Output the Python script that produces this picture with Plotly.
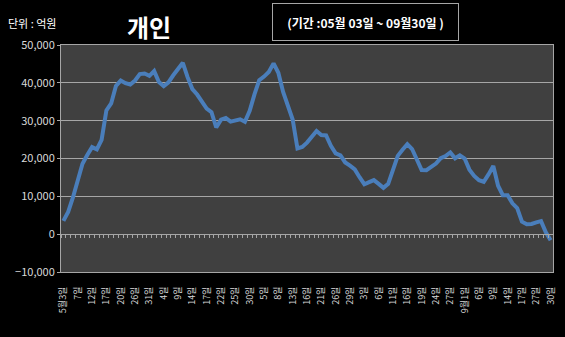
import plotly.graph_objects as go

# Daily net buying (unit: 억원), trading days 05/03 ~ 09/30
values = [
    3500, 5900, 9700, 14500, 18600, 20900, 23000, 22400, 24950, 32700,
    34550, 39200, 40600, 39900, 39550, 40600, 42300, 42450, 41850, 43100,
    40200, 39100, 40150, 42000, 43800, 45300, 41500, 38350, 36900, 34800,
    33200, 32250, 28200, 30250, 30700, 29750, 30150, 30350, 29700, 32600,
    36950, 40700, 41650, 42850, 45150, 42650, 37600, 34100, 30300, 22650,
    23050, 24200, 25800, 27250, 26200, 26100, 23350, 21350, 20800, 18950,
    18100, 17100, 15050, 13200, 13750, 14300, 13300, 12250, 13300, 17050,
    20700, 22330, 23800, 22500, 19700, 16950, 16900, 17650, 18650, 20100,
    20650, 21600, 20050, 20850, 20000, 17050, 15400, 14250, 13850, 15800,
    18000, 12800, 10300, 10300, 8150, 6900, 3300, 2600, 2700, 3100,
    3450, 500, -1600,
]

# Every third trading day is labelled
tick_labels = [
    "5월3일", "7일", "12일", "17일", "20일", "26일", "31일",
    "4일", "9일", "14일", "17일", "22일", "25일", "30일",
    "5일", "8일", "13일", "16일", "21일", "26일", "29일",
    "3일", "6일", "11일", "16일", "19일", "24일", "27일",
    "9월1일", "6일", "9일", "14일", "17일", "27일", "30일",
]
label_step = 3

y_ticks = [-10000, 0, 10000, 20000, 30000, 40000, 50000]

title = "개인"
unit_text = "단위 : 억원"
period_text = "(기간 :05월 03일 ~ 09월30일 )"

idx = list(range(len(values)))
tickvals = [i * label_step for i in range(len(tick_labels))]

FONT = "Noto Sans CJK KR"
GRID = "#a6a6a6"
TXT = "#d9d9d9"

fig = go.Figure()
fig.add_trace(go.Scatter(
    x=idx, y=values, mode="lines",
    line=dict(color="#4a7ebb", width=4, shape="linear"),
    hoverinfo="skip", showlegend=False,
))
# invisible trace to carry the category tick-mark axis at the zero line
fig.add_trace(go.Scatter(
    x=[idx[0], idx[-1]], y=[0, 0], xaxis="x2", mode="lines",
    line=dict(width=0), opacity=0, hoverinfo="skip", showlegend=False,
))

xr = [-0.5, len(values) - 0.5]
yr = [y_ticks[0], y_ticks[-1]]

fig.update_layout(
    width=565, height=337,
    margin=dict(l=61, r=8, t=45, b=65),
    paper_bgcolor="#000000",
    plot_bgcolor="#404040",
    font=dict(family=FONT, color=TXT),
    xaxis=dict(
        range=xr, tickmode="array", tickvals=tickvals, ticktext=tick_labels,
        tickangle=-90, tickfont=dict(size=9, color=TXT, family=FONT),
        showgrid=False, zeroline=False,
        showline=True, linecolor=GRID, linewidth=1, mirror=True,
        ticks="", ticklabelstandoff=10,
    ),
    xaxis2=dict(
        range=xr, overlaying="x", anchor="free",
        position=(0 - yr[0]) / (yr[1] - yr[0]),
        tickmode="array", tickvals=[i - 0.5 for i in range(len(values) + 1)],
        ticks="outside", ticklen=3, tickcolor=GRID, tickwidth=1,
        showticklabels=False, showgrid=False, zeroline=False,
        showline=True, linecolor=GRID, linewidth=1,
    ),
    yaxis=dict(
        range=yr, tickmode="array", tickvals=y_ticks,
        tickformat=",d", tickfont=dict(size=11, color=TXT, family=FONT),
        showgrid=True, gridcolor=GRID, gridwidth=1,
        zeroline=False,
        showline=True, linecolor=GRID, linewidth=1, mirror=True,
        ticks="outside", ticklen=3, tickcolor=GRID,
    ),
    annotations=[
        dict(text=f"<b>{title}</b>", xref="paper", yref="paper",
             x=(150 - 61) / 496, y=(272 - 26) / 227, showarrow=False,
             font=dict(size=24, color="#ffffff", family=FONT),
             xanchor="center", yanchor="middle"),
        dict(text=unit_text, xref="paper", yref="paper",
             x=(32 - 61) / 496, y=(272 - 23) / 227, showarrow=False,
             font=dict(size=11, color="#ffffff", family=FONT),
             xanchor="center", yanchor="middle"),
        dict(text=f"<b>{period_text}</b>", xref="paper", yref="paper",
             x=(367.5 - 61) / 496, y=(272 - 22) / 227, showarrow=False,
             font=dict(size=12, color="#ffffff", family=FONT),
             xanchor="center", yanchor="middle",
             width=183, height=34, bordercolor=GRID, borderwidth=1,
             borderpad=1, align="center", valign="middle"),
    ],
)

fig.write_html("out.html")
